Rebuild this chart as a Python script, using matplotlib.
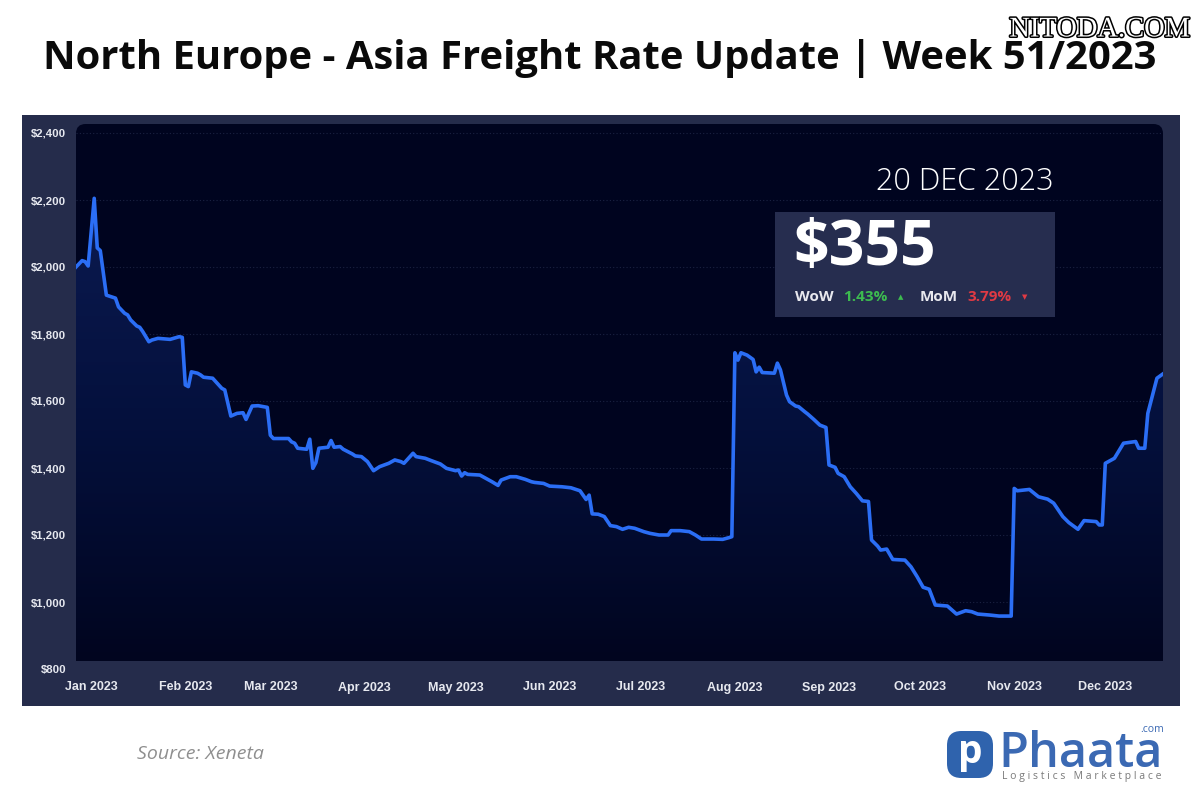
import numpy as np
import pandas as pd
import matplotlib
matplotlib.use("Agg")
import matplotlib.pyplot as plt
import matplotlib.dates as mdates
from matplotlib.patches import FancyBboxPatch, Rectangle
from matplotlib.colors import LinearSegmentedColormap
import matplotlib.patheffects as pe
from matplotlib.ticker import FuncFormatter

# ---------------- data ----------------
day_offsets = [-5, -3, -2, -1, 1, 2, 3, 5, 6, 8, 9, 11, 12, 13, 15, 16, 17, 19, 20, 22,
               26, 29, 30, 31, 32, 33, 35, 36, 37, 40, 41, 43, 44, 46, 48, 50, 51, 53, 55, 58,
               59, 60, 65, 66, 67, 68, 71, 72, 73, 74, 75, 78, 79, 80, 82, 83, 86, 87, 89, 91,
               93, 95, 98, 100, 102, 103, 106, 107, 110, 112, 115, 117, 120, 121, 122, 123, 124, 128, 130, 132,
               134, 135, 138, 140, 143, 145, 146, 149, 151, 155, 158, 161, 162, 163, 164, 165, 167, 169, 171, 173,
               175, 177, 179, 182, 184, 187, 190, 191, 194, 197, 199, 201, 205, 208, 210, 211, 212, 213, 214, 216,
               218, 219, 220, 221, 225, 226, 227, 229, 230, 232, 233, 235, 236, 238, 240, 242, 243, 245, 246, 248,
               250, 252, 254, 256, 257, 259, 260, 262, 264, 268, 270, 272, 274, 276, 278, 282, 285, 288, 290, 292,
               296, 299, 303, 304, 305, 309, 312, 315, 317, 320, 322, 325, 327, 331, 332, 333, 334, 337, 340, 344,
               345, 347, 348, 351, 353]
rates = [2000, 2019, 2016, 2003, 2205, 2057, 2049, 1916, 1913, 1907, 1881, 1862, 1857, 1842, 1824, 1820, 1807, 1777, 1782, 1787,
         1784, 1792, 1790, 1648, 1643, 1687, 1683, 1678, 1671, 1668, 1658, 1638, 1633, 1555, 1563, 1565, 1545, 1585, 1586, 1581,
         1498, 1488, 1488, 1478, 1474, 1459, 1456, 1486, 1399, 1416, 1459, 1462, 1482, 1462, 1464, 1456, 1442, 1436, 1434, 1419,
         1392, 1404, 1414, 1424, 1419, 1414, 1444, 1434, 1429, 1422, 1412, 1399, 1392, 1394, 1376, 1386, 1381, 1379, 1369, 1359,
         1348, 1364, 1374, 1374, 1366, 1359, 1357, 1354, 1346, 1344, 1341, 1332, 1319, 1306, 1319, 1263, 1262, 1255, 1228, 1225,
         1217, 1223, 1220, 1210, 1205, 1200, 1200, 1213, 1213, 1210, 1200, 1188, 1188, 1187, 1192, 1195, 1744, 1722, 1744, 1737,
         1724, 1687, 1701, 1685, 1683, 1713, 1693, 1618, 1598, 1585, 1583, 1568, 1561, 1545, 1528, 1521, 1409, 1402, 1384, 1374,
         1344, 1324, 1302, 1300, 1185, 1167, 1155, 1158, 1127, 1125, 1105, 1076, 1044, 1038, 991, 988, 964, 974, 971, 964,
         961, 958, 958, 1339, 1332, 1336, 1314, 1307, 1295, 1255, 1237, 1217, 1243, 1240, 1230, 1230, 1414, 1429, 1474, 1479,
         1459, 1459, 1563, 1668, 1681]
start_date = "2023-01-01"
tick_months = pd.date_range("2023-01-01", "2023-12-01", freq="MS")
y_ticks = [800, 1000, 1200, 1400, 1600, 1800, 2000, 2200, 2400]

title_text = "North Europe - Asia Freight Rate Update | Week 51/2023"
box_date = "20 DEC 2023"
box_value = "$355"
wow_label, wow_value = "WoW", "1.43%"
mom_label, mom_value = "MoM", "3.79%"
source_text = "Source: Xeneta"

dates = pd.Timestamp(start_date) + pd.to_timedelta(day_offsets, unit="D")
xnum = mdates.date2num(dates)

# ---------------- figure ----------------
W, H = 1200, 800
fig = plt.figure(figsize=(12, 8), dpi=100, facecolor="white")

def fx(px):
    return px / W

def fy(py):
    return 1 - py / H

panel_col = "#252c4b"
inner_col = "#00041f"
line_col = "#2b6ef5"

# outer panel
fig.patches.append(Rectangle((fx(22), fy(706)), fx(1180) - fx(22), fy(115) - fy(706),
                             transform=fig.transFigure, facecolor=panel_col, edgecolor="none", zorder=-3))
# inner rounded area
inner = FancyBboxPatch((fx(76), fy(661)), fx(1163) - fx(76), fy(124) - fy(661),
                       boxstyle="round,pad=0,rounding_size=0.008", mutation_aspect=1.5,
                       transform=fig.transFigure, facecolor=inner_col, edgecolor="none", zorder=-2)
fig.patches.append(inner)

# axes: x 76..1163 px, y 124..669 px
ax = fig.add_axes([fx(76), fy(669), fx(1163) - fx(76), fy(124) - fy(669)])
ax.set_facecolor("none")
ymin = 800
ymax = 2400 + (133 - 124) * 1600 / 536
fill_base = 800 + (669 - 661) * 1600 / 536   # bottom edge of the inner area
for s in ax.spines.values():
    s.set_visible(False)

# grid
for yv in y_ticks[1:]:
    ax.axhline(yv, color="#1b2242", lw=0.8, ls=(0, (1, 2)), zorder=0.5)

# gradient fill under the line
poly = ax.fill_between(xnum, rates, fill_base, color="none", lw=0)
cmap = LinearSegmentedColormap.from_list("g", ["#01051f", "#04103c", "#0b1a50"])
grad = np.linspace(0, 1, 256).reshape(-1, 1)
im = ax.imshow(grad, extent=[xnum[0], xnum[-1], fill_base, 2200], aspect="auto", cmap=cmap,
               origin="lower", zorder=1, interpolation="bicubic")
im.set_clip_path(poly.get_paths()[0], transform=ax.transData)
ax.set_xlim(xnum[0], xnum[-1])
ax.set_ylim(ymin, ymax)

ax.plot(xnum, rates, color=line_col, lw=2.6, solid_joinstyle="round", zorder=3)

# ticks
ax.set_yticks(y_ticks)
ax.yaxis.set_major_formatter(FuncFormatter(lambda v, p: "${:,.0f}".format(v)))
ax.set_xticks(mdates.date2num(tick_months))
ax.set_xticklabels([d.strftime("%b %Y") for d in tick_months])
ax.tick_params(axis="both", length=0, colors="#e6e8ef")
ax.tick_params(axis="y", pad=7)
ax.tick_params(axis="x", pad=9)
for lab in ax.get_yticklabels():
    lab.set_fontfamily("Liberation Sans")
    lab.set_fontweight("bold")
    lab.set_fontsize(8.2)
    lab.set_color("#e6e8ef")
for lab in ax.get_xticklabels():
    lab.set_fontfamily("Liberation Sans")
    lab.set_fontweight("bold")
    lab.set_fontsize(9)
    lab.set_color("#e6e8ef")

# ---------------- title & watermark ----------------
fig.text(fx(600), fy(58), title_text, ha="center", va="center", fontsize=28.8,
         fontweight="bold", family="Open Sans", color="#0a0a0a")
fig.text(fx(1190), fy(30), "NITODA.COM", ha="right", va="center", fontsize=20.5,
         family="Liberation Serif", color="white",
         path_effects=[pe.withStroke(linewidth=2.2, foreground="black")])

# ---------------- info box ----------------
fig.text(fx(1054), fy(182), box_date, ha="right", va="center", fontsize=22,
         fontweight="light", family="Open Sans", color="white")
fig.patches.append(Rectangle((fx(775), fy(317)), fx(1055) - fx(775), fy(212) - fy(317),
                             transform=fig.transFigure, facecolor="#262d4f", edgecolor="none", zorder=1))
fig.text(fx(793), fy(249), box_value, ha="left", va="center", fontsize=45,
         fontweight="bold", family="Open Sans", color="white", zorder=3)
row_y = fy(297)
fig.text(fx(795), row_y, wow_label, ha="left", va="center", fontsize=11, fontweight="bold",
         family="Open Sans", color="#e8e8ee", zorder=3)
fig.text(fx(843), row_y, wow_value, ha="left", va="center", fontsize=11, fontweight="bold",
         family="Open Sans", color="#3dbb4f", zorder=3)
fig.text(fx(901), row_y, "\u25B2", ha="center", va="center", fontsize=5,
         family="DejaVu Sans", color="#3dbb4f", zorder=3)
fig.text(fx(920), row_y, mom_label, ha="left", va="center", fontsize=11, fontweight="bold",
         family="Open Sans", color="#e8e8ee", zorder=3)
fig.text(fx(967), row_y, mom_value, ha="left", va="center", fontsize=11, fontweight="bold",
         family="Open Sans", color="#e03a44", zorder=3)
fig.text(fx(1025), row_y, "\u25BC", ha="center", va="center", fontsize=5,
         family="DejaVu Sans", color="#e03a44", zorder=3)

# ---------------- footer ----------------
fig.text(fx(137), fy(754), source_text, ha="left", va="center", fontsize=14,
         style="italic", family="Open Sans", color="#8f8f8f")

# Phaata logo
fig.patches.append(FancyBboxPatch((fx(947), fy(778)), fx(993) - fx(947), fy(731) - fy(778),
                                  boxstyle="round,pad=0,rounding_size=0.012", mutation_aspect=1.5,
                                  transform=fig.transFigure, facecolor="#2f63ad", edgecolor="none", zorder=1))
fig.text(fx(970), fy(752), "p", ha="center", va="center", fontsize=28, fontweight="bold",
         family="Open Sans", color="white", zorder=3)
fig.text(fx(998), fy(767), "Phaata", ha="left", va="baseline", fontsize=35,
         fontweight="semibold", family="Open Sans", color="#3b69b3", zorder=3)
fig.text(fx(1164), fy(729), ".com", ha="right", va="center", fontsize=7.5,
         family="Open Sans", color="#3b69b3", zorder=3)
fig.text(fx(1002), fy(776), "L o g i s t i c s   M a r k e t p l a c e", ha="left", va="center", fontsize=7.5,
         family="Open Sans", color="#7a7a7a", zorder=3)

fig.savefig("out.png", dpi=100, facecolor="white")
